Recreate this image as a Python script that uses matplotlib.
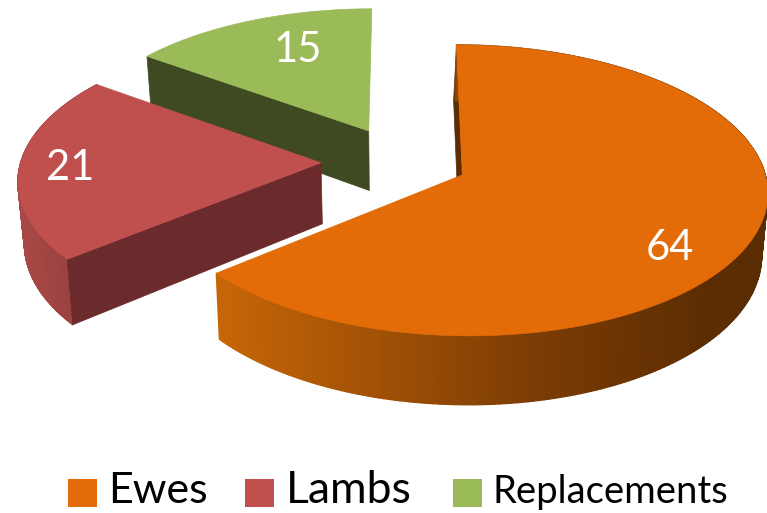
import numpy as np
import matplotlib
matplotlib.use("Agg")
import matplotlib.pyplot as plt
from matplotlib.colors import LinearSegmentedColormap
from matplotlib.collections import PolyCollection
from matplotlib.patches import Polygon, Rectangle

categories = ["Ewes", "Lambs", "Replacements"]
values = [64, 21, 15]
explode = [0.22, 0.27, 0.25]
top_colors = ["#E36C09", "#C0504D", "#9BBB59"]
cut_colors = ["#5C2D02", "#6B2A2C", "#3F4A22"]
legend_sizes = [31, 32, 27.5]

# projection of the tilted pie, in pixels
CX, CY = 402, 161.6
RX, RY = 300, 141
PERSP = 0.105
DEPTH = 61
SHRINK = 0.017

plt.rcParams["font.family"] = ["Lato", "DejaVu Sans"]

ewes_rim = LinearSegmentedColormap.from_list(
    "ewes_rim", [(0, "#C76607"), (0.6, "#7A3B04"), (0.9, "#5C2D02"), (1, "#5A2C02")]
)
lambs_rim = LinearSegmentedColormap.from_list("lambs_rim", ["#A84846", "#9A4240"])


def project(x, y, bottom=False):
    s = 1 / (1 - PERSP * np.asarray(y))
    px = CX + RX * np.asarray(x) * s
    py = CY + RY * np.asarray(y) * s
    if bottom:
        px = CX + (px - CX) * (1 - SHRINK)
        py = py + DEPTH * s
    return px, py


def pts(x, y, bottom=False):
    return np.column_stack(project(x, y, bottom))


fig = plt.figure(figsize=(7.67, 5.13), dpi=100)
ax = fig.add_axes([0, 0, 1, 1])
ax.set_xlim(0, 767)
ax.set_ylim(513, 0)
ax.axis("off")

# clockwise from 12 o'clock
edges = np.radians(np.cumsum([0] + values) * 3.6)
slices = []
for i in range(len(values)):
    a0, a1 = edges[i], edges[i + 1]
    mid = (a0 + a1) / 2
    ox, oy = explode[i] * np.sin(mid), -explode[i] * np.cos(mid)
    t = np.linspace(a0, a1, 240)
    slices.append((ox, oy, ox + np.sin(t), oy - np.cos(t)))


def top_face(i):
    ox, oy, ax_, ay_ = slices[i]
    xy = pts(np.r_[ox, ax_], np.r_[oy, ay_])
    ax.add_patch(Polygon(xy, closed=True, fc=top_colors[i], ec=top_colors[i], lw=0.5))


def cut_face(i, end, lean=0):
    # flat side of a slice, from the apex to the first (0) or last (-1) rim point
    ox, oy, ax_, ay_ = slices[i]
    up = pts([ox, ax_[end]], [oy, ay_[end]])
    down = pts([ox, ax_[end]], [oy, ay_[end]], bottom=True)
    down[:, 0] += lean
    xy = np.vstack([up, down[::-1]])
    ax.add_patch(Polygon(xy, closed=True, fc=cut_colors[i], ec=cut_colors[i], lw=0.5))


def rim(i, cmap, x0, x1):
    ox, oy, ax_, ay_ = slices[i]
    up = pts(ax_, ay_)
    down = pts(ax_, ay_, bottom=True)
    quads = [[up[k], up[k + 1], down[k + 1], down[k]] for k in range(len(up) - 1)]
    shade = np.clip((up[:-1, 0] - x0) / (x1 - x0), 0, 1)
    colors = cmap(shade)
    ax.add_collection(PolyCollection(quads, facecolors=colors, edgecolors=colors, linewidths=1.0))


# back to front
cut_face(2, 0)
top_face(2)

rim(1, lambs_rim, 20, 70)
cut_face(1, 0)
top_face(1)

cut_face(0, 0, lean=-2)
rim(0, ewes_rim, 217, 767)
top_face(0)

label_xy = [(670, 248), (70, 168), (298, 50)]
for v, (lx, ly) in zip(values, label_xy):
    ax.text(lx, ly, str(v), color="white", fontsize=30, ha="center", va="center")

swatch_x = [68, 245, 453]
text_x = [108, 286, 492]
for i, name in enumerate(categories):
    ax.add_patch(Rectangle((swatch_x[i], 479), 29, 28, fc=top_colors[i], ec="none"))
    ax.text(text_x[i], 503, name, color="black", fontsize=legend_sizes[i], ha="left", va="baseline")

fig.savefig("out.png", dpi=100)
